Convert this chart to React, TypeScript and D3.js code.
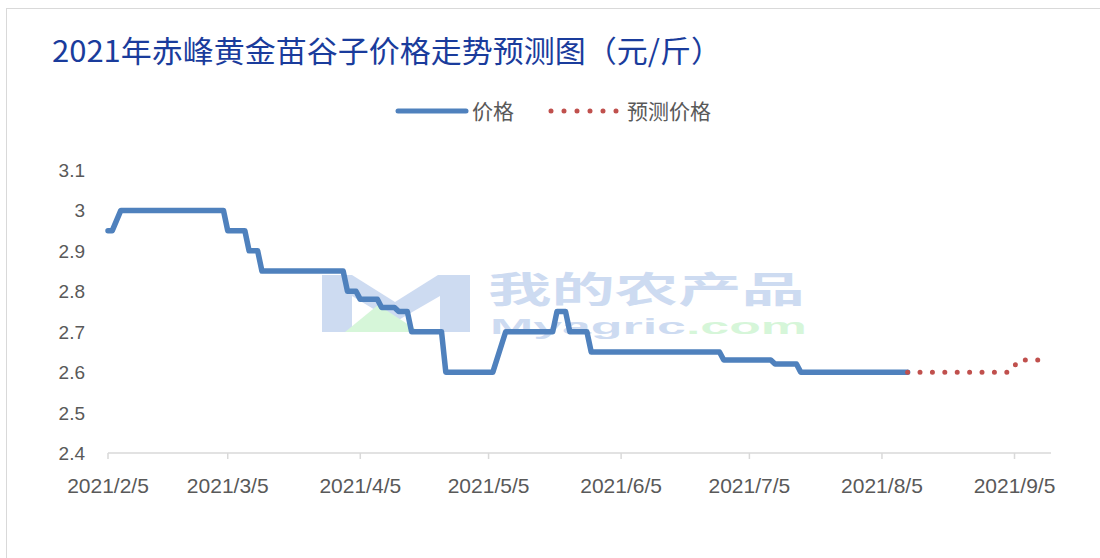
import React from 'react'
import * as d3 from "d3";

// price series (solid line)
const priceDates = ["2021/2/5", "2021/2/6", "2021/2/8", "2021/3/4", "2021/3/5", "2021/3/9", "2021/3/10", "2021/3/12",
  "2021/3/13", "2021/4/1", "2021/4/2", "2021/4/4", "2021/4/5", "2021/4/9", "2021/4/10", "2021/4/13", "2021/4/14",
  "2021/4/16", "2021/4/17", "2021/4/24", "2021/4/25", "2021/5/6", "2021/5/9", "2021/5/20", "2021/5/21", "2021/5/23",
  "2021/5/24", "2021/5/28", "2021/5/29", "2021/6/28", "2021/6/29", "2021/7/10", "2021/7/11", "2021/7/16", "2021/7/17",
  "2021/8/11"]
const priceValues = [2.95, 2.95, 3.0, 3.0, 2.95, 2.95, 2.9, 2.9, 2.85, 2.85, 2.8, 2.8, 2.78, 2.78, 2.76, 2.76, 2.75,
  2.75, 2.7, 2.7, 2.6, 2.6, 2.7, 2.7, 2.75, 2.75, 2.7, 2.7, 2.65, 2.65, 2.63, 2.63, 2.62, 2.62, 2.6, 2.6]

// forecast series (dotted line)
const forecastDates = ["2021/8/11", "2021/9/4", "2021/9/6", "2021/9/12"]
const forecastValues = [2.6, 2.6, 2.63, 2.63]

const xTickLabels = ["2021/2/5", "2021/3/5", "2021/4/5", "2021/5/5", "2021/6/5", "2021/7/5", "2021/8/5", "2021/9/5"]
const yTicks = [2.4, 2.5, 2.6, 2.7, 2.8, 2.9, 3.0, 3.1]

const seriesNames = ["价格", "预测价格"]
const title = "2021年赤峰黄金苗谷子价格走势预测图（元/斤）"

interface Point {
  date: Date;
  value: number;
}

const parseDate = d3.timeParse("%Y/%m/%d")

const App = () => {
  const width = 1100
  const height = 558
  const margin = { top: 170, right: 47, bottom: 105, left: 108 }

  const price: Point[] = priceDates.map((d, i) => ({ date: parseDate(d) as Date, value: priceValues[i] }))
  const forecast: Point[] = forecastDates.map((d, i) => ({ date: parseDate(d) as Date, value: forecastValues[i] }))

  const xScale = d3.scaleTime()
    .domain([parseDate("2021/2/5") as Date, parseDate("2021/9/14") as Date])
    .range([margin.left, width - margin.right])

  const yScale = d3.scaleLinear()
    .domain([2.4, 3.1])
    .range([height - margin.bottom, margin.top])

  const line = d3.line<Point>()
    .x(d => xScale(d.date))
    .y(d => yScale(d.value))

  const axisY = yScale(2.4)
  const labelFont = "'Liberation Sans', Arial, sans-serif"
  const cjkFont = "'Noto Sans CJK SC', 'Noto Sans', sans-serif"

  return (
    <svg width={width} height={height} style={{ display: "block" }}>
      <style>{`body{margin:0}`}</style>
      <rect x={6.5} y={8.5} width={1200} height={700} fill="#fff" stroke="#d9d9d9" strokeWidth={1} />

      {/* title */}
      <text x={52} y={62} fill="#1a3c9c" fontFamily={cjkFont} fontSize={30}
        textLength={670} lengthAdjust="spacingAndGlyphs">{title}</text>

      {/* legend */}
      <g fontFamily={cjkFont} fontSize={21} fill="#595959">
        <line x1={398} x2={466} y1={111} y2={111} stroke="#4f81bd" strokeWidth={5} strokeLinecap="round" />
        <text x={472} y={119}>{seriesNames[0]}</text>
        <line x1={551} x2={617} y1={111} y2={111} stroke="#c0504d" strokeWidth={5}
          strokeLinecap="round" strokeDasharray="0 13" />
        <text x={627} y={119}>{seriesNames[1]}</text>
      </g>

      {/* watermark */}
      <g opacity={0.28}>
        <path d="M322,275 L352,275 L395,302 L438,275 L470,275 L470,332 L440,332 L440,296 L395,322 L352,296 L352,332 L322,332 Z"
          fill="#4f7fd0" />
        <path d="M345,332 L378,305 L420,332 Z" fill="#6fe07a" />
        <text x={488} y={303} fontFamily={cjkFont} fontWeight="bold" fontSize={36} fill="#4f7fd0"
          textLength={317} lengthAdjust="spacingAndGlyphs">我的农产品</text>
        <text x={490} y={334} fontFamily={labelFont} fontWeight="bold" fontSize={22}
          textLength={317} lengthAdjust="spacingAndGlyphs">
          <tspan fill="#4f7fd0">Myagric</tspan><tspan fill="#6fe07a">.com</tspan>
        </text>
      </g>

      {/* y axis labels */}
      <g fontFamily={labelFont} fontSize={19} fill="#595959" textAnchor="end">
        {yTicks.map(t => (
          <text key={t} x={85} y={yScale(t) + 7}>{String(+t.toFixed(1))}</text>
        ))}
      </g>

      {/* x axis */}
      <line x1={xScale.range()[0]} x2={xScale.range()[1] - 2} y1={axisY} y2={axisY} stroke="#d9d9d9" strokeWidth={1.5} />
      <g fontFamily={labelFont} fontSize={21} fill="#595959" textAnchor="middle">
        {xTickLabels.map(l => {
          const x = xScale(parseDate(l) as Date)
          return (
            <g key={l}>
              <line x1={x} x2={x} y1={axisY} y2={axisY + 6} stroke="#d9d9d9" strokeWidth={1.5} />
              <text x={x} y={axisY + 40}>{l}</text>
            </g>
          )
        })}
      </g>

      {/* series */}
      <path d={line(price) ?? ""} fill="none" stroke="#4f81bd" strokeWidth={5.5}
        strokeLinejoin="round" strokeLinecap="round" />
      <path d={line(forecast) ?? ""} fill="none" stroke="#c0504d" strokeWidth={5}
        strokeLinecap="round" strokeDasharray="0 12.4" />
    </svg>
  )
}

export default App
